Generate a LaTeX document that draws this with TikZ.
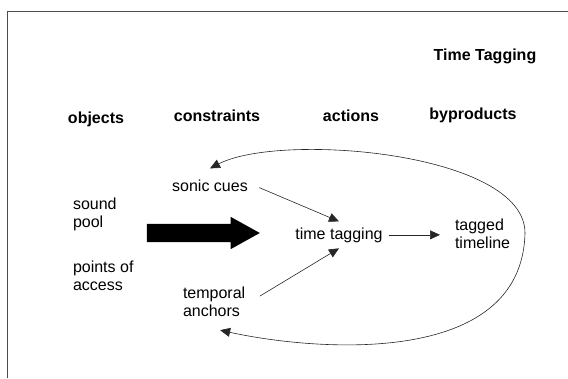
\documentclass[tikz,border=0pt]{standalone}
\usepackage{fontspec}
\setmainfont{Liberation Sans}
\usetikzlibrary{arrows.meta,shapes.arrows}
\tikzset{
    column-title/.style = {font=\fontsize{16}{18}\selectfont\bfseries, inner sep=0pt},
    item-text/.style = {font=\fontsize{16}{18}\selectfont, inner sep=0pt, outer sep=6pt, align=left},
    flow-arrow/.style = {draw=black!85, line width=0.6pt, -{Triangle[length=10pt,width=9pt]}},
    frame-line/.style = {draw=black!70, line width=0.8pt},
}

\begin{document}
\begin{tikzpicture}[x=1pt, y=-1pt]
\useasboundingbox (0,0) rectangle (568,378);
\draw[frame-line] (7,378) -- (7,11) -- (568,11);

% column titles
\node[column-title, anchor=base] (title) at (485,60) {Time Tagging};
\node[column-title, anchor=base] (objects) at (96,123) {objects};
\node[column-title, anchor=base] (constraints) at (217,121) {constraints};
\node[column-title, anchor=base] (actions) at (351,121) {actions};
\node[column-title, anchor=base] (byproducts) at (473,119) {byproducts};

% items (base = last line)
\node[item-text, anchor=base west] (pool) at (67,227) {sound\\pool};
\node[item-text, anchor=base west] (access) at (67,290) {points of\\access};
\node[item-text, anchor=base] (cues) at (210,191) {sonic cues};
\node[item-text, anchor=base west] (anchors) at (177,316) {temporal\\anchors};
\node[item-text, anchor=base] (tagging) at (339,239) {time tagging};
\node[item-text, anchor=base west] (timeline) at (449,248) {tagged\\timeline};

\node[single arrow, fill=black, inner xsep=0pt, inner ysep=9pt, minimum height=113pt,
      single arrow head extend=7pt, single arrow tip angle=58] (push) at (195,233) {};

\draw[flow-arrow, shorten <=6pt] (cues.east) -- (tagging.north);
\draw[flow-arrow, shorten <=10pt] (anchors.east) -- (tagging.south);
\draw[flow-arrow, shorten >=9pt] (tagging.east) -- (tagging.east -| timeline.west);

\coordinate (turn) at (525,233);
\draw[flow-arrow] (turn) .. controls (525,152) and (280,132) .. ([yshift=5pt]cues.north);
\draw[flow-arrow] (turn) .. controls (522,370) and (310,350) .. ([xshift=6pt,yshift=-8pt]anchors.south);
\end{tikzpicture}
\end{document}
